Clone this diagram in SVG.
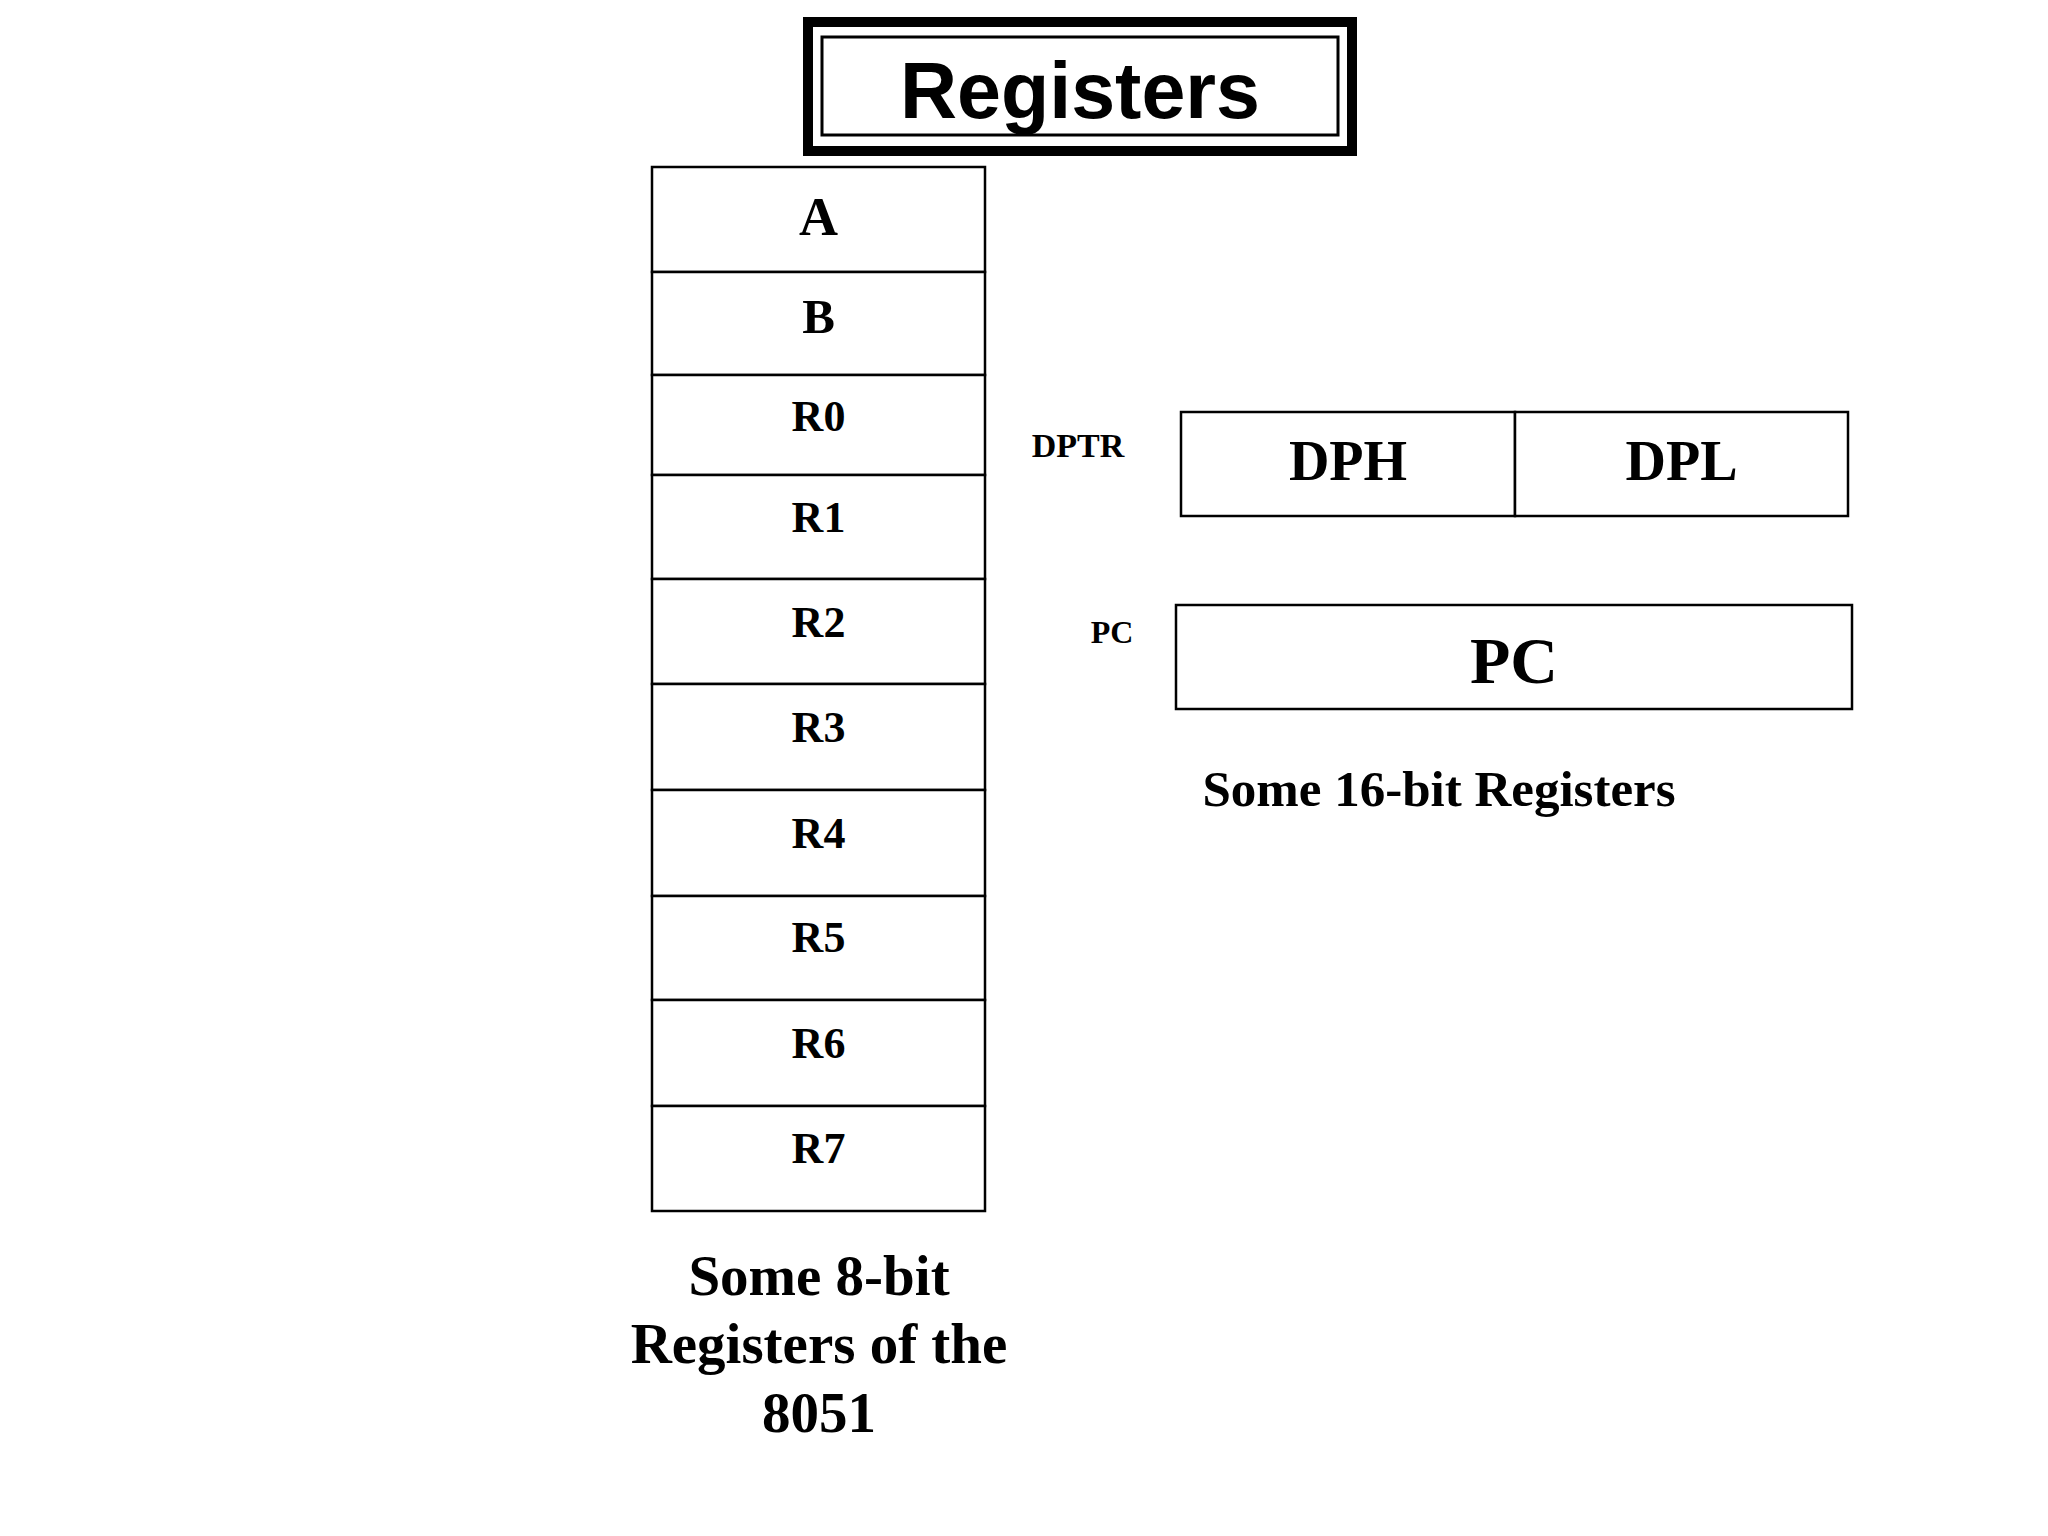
<svg xmlns="http://www.w3.org/2000/svg" width="2048" height="1536" viewBox="0 0 2048 1536">
<style>
.box{fill:#fff;stroke:#000;stroke-width:2.5}
.t{font-family:"Liberation Serif","Times New Roman",serif;font-weight:bold;fill:#000;text-anchor:middle}
.r{font-size:44px}
</style>
<rect width="2048" height="1536" fill="#fff"/>
<g id="title">
<rect x="808" y="22" width="544" height="129" fill="#fff" stroke="#000" stroke-width="10"/>
<rect x="822" y="37" width="516" height="98" fill="none" stroke="#000" stroke-width="3"/>
<text x="1080" y="118" font-family="Liberation Sans,Arial,sans-serif" font-weight="bold" font-size="79" text-anchor="middle">Registers</text>
</g>
<g id="reg8">
<g id="regA"><rect class="box" x="652" y="167" width="333" height="105"/><text class="t" x="818.5" y="235" font-size="54">A</text></g>
<g id="regB"><rect class="box" x="652" y="272" width="333" height="103"/><text class="t" x="818.5" y="333" font-size="49">B</text></g>
<g id="regR0"><rect class="box" x="652" y="375" width="333" height="100" stroke-width="3"/><text class="t r" x="818.5" y="431">R0</text></g>
<g id="regR1"><rect class="box" x="652" y="475" width="333" height="104" stroke-width="3"/><text class="t r" x="818.5" y="532">R1</text></g>
<g id="regR2"><rect class="box" x="652" y="579" width="333" height="105" stroke-width="3"/><text class="t r" x="818.5" y="637">R2</text></g>
<g id="regR3"><rect class="box" x="652" y="684" width="333" height="106" stroke-width="3"/><text class="t r" x="818.5" y="742">R3</text></g>
<g id="regR4"><rect class="box" x="652" y="790" width="333" height="106" stroke-width="3"/><text class="t r" x="818.5" y="848">R4</text></g>
<g id="regR5"><rect class="box" x="652" y="896" width="333" height="104" stroke-width="3"/><text class="t r" x="818.5" y="952">R5</text></g>
<g id="regR6"><rect class="box" x="652" y="1000" width="333" height="106" stroke-width="3"/><text class="t r" x="818.5" y="1058">R6</text></g>
<g id="regR7"><rect class="box" x="652" y="1106" width="333" height="105" stroke-width="3"/><text class="t r" x="818.5" y="1163">R7</text></g>
</g>
<g id="caption8">
<text class="t" x="819" y="1295" font-size="57">Some 8-bit</text>
<text class="t" x="819" y="1363" font-size="57">Registers of the</text>
<text class="t" x="819" y="1432" font-size="57">8051</text>
</g>
<g id="dptr">
<text class="t" x="1078" y="457" font-size="34">DPTR</text>
<g id="dph"><rect class="box" x="1181" y="412" width="334" height="104"/><text class="t" x="1348" y="480" font-size="56">DPH</text></g>
<g id="dpl"><rect class="box" x="1515" y="412" width="333" height="104"/><text class="t" x="1681.5" y="480" font-size="56">DPL</text></g>
</g>
<g id="pc">
<text class="t" x="1112" y="643" font-size="32">PC</text>
<rect class="box" x="1176" y="605" width="676" height="104"/>
<text class="t" x="1514" y="683" font-size="66">PC</text>
</g>
<g id="caption16">
<text class="t" x="1439" y="806" font-size="51">Some 16-bit Registers</text>
</g>
<g id="connectors"/>
</svg>
